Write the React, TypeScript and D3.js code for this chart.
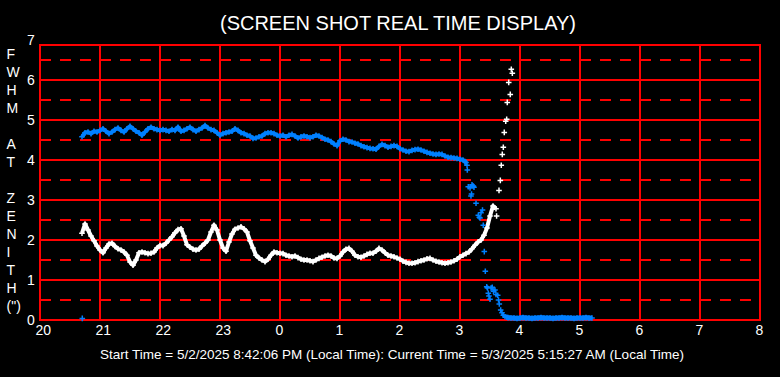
import React from "react";
import * as d3 from "d3";

// ---------- DATA ----------
const xTickValues = [20, 21, 22, 23, 24, 25, 26, 27, 28, 29, 30, 31, 32];
const xTickLabels = ["20", "21", "22", "23", "0", "1", "2", "3", "4", "5", "6", "7", "8"];
const yTickValues = [0, 1, 2, 3, 4, 5, 6, 7];
const yLabelLetters = ["F", "W", "H", "M", "", "A", "T", "", "Z", "E", "N", "I", "T", "H", "(\")"];

const sampleStep = 0.05; // hours between dense samples

// white series (dense part), starting 20.70 h
const whiteStart = 20.7;
const whiteDense = [
  2.17, 2.4, 2.25, 2.1, 1.98, 1.85, 1.75, 1.68, 1.8, 1.9, 1.92, 1.84, 1.78, 1.75, 1.7, 1.62, 1.45, 1.37, 1.5, 1.68,
  1.7, 1.68, 1.66, 1.67, 1.7, 1.8, 1.86, 1.86, 1.92, 2.0, 2.08, 2.18, 2.26, 2.28, 2.1, 1.88, 1.82, 1.77, 1.75, 1.77,
  1.85, 1.92, 2.0, 2.2, 2.37, 2.25, 2.0, 1.8, 1.72, 1.95, 2.15, 2.27, 2.3, 2.33, 2.28, 2.2, 1.98, 1.8, 1.62, 1.55,
  1.5, 1.46, 1.52, 1.62, 1.7, 1.68, 1.67, 1.66, 1.62, 1.6, 1.58, 1.6, 1.56, 1.52, 1.5, 1.5, 1.48, 1.46, 1.5, 1.54,
  1.57, 1.6, 1.62, 1.6, 1.55, 1.54, 1.6, 1.7, 1.77, 1.79, 1.72, 1.62, 1.58, 1.57, 1.6, 1.64, 1.67, 1.67, 1.72, 1.79,
  1.75, 1.68, 1.62, 1.6, 1.58, 1.55, 1.52, 1.47, 1.44, 1.42, 1.42, 1.43, 1.46, 1.48, 1.5, 1.53, 1.54, 1.5, 1.47, 1.45,
  1.43, 1.42, 1.43, 1.45, 1.48, 1.52, 1.58, 1.62, 1.66, 1.7, 1.78, 1.87, 1.95, 2.0, 2.12, 2.3, 2.6, 2.85, 2.78,
];
// white series (sparse rise)
const whiteSparseHours = [27.61, 27.65, 27.672, 27.688, 27.705, 27.722, 27.738, 27.762, 27.778, 27.788, 27.838, 27.812, 27.872, 27.855];
const whiteSparseValues = [2.6, 3.24, 3.49, 3.87, 4.14, 4.32, 4.69, 4.97, 5.02, 5.44, 5.64, 5.94, 6.17, 6.27];

// blue series (dense part), starting 20.70 h
const blueStart = 20.7;
const blueDense = [
  4.58, 4.68, 4.7, 4.66, 4.72, 4.7, 4.74, 4.78, 4.72, 4.66, 4.7, 4.76, 4.8, 4.74, 4.7, 4.78, 4.84, 4.78, 4.72, 4.68,
  4.62, 4.7, 4.78, 4.82, 4.78, 4.76, 4.74, 4.76, 4.74, 4.72, 4.76, 4.74, 4.82, 4.72, 4.74, 4.78, 4.82, 4.76, 4.72, 4.76,
  4.8, 4.86, 4.8, 4.76, 4.74, 4.68, 4.62, 4.66, 4.68, 4.7, 4.72, 4.78, 4.74, 4.68, 4.66, 4.62, 4.6, 4.54, 4.55, 4.58,
  4.6, 4.66, 4.68, 4.68, 4.66, 4.62, 4.6, 4.62, 4.58, 4.62, 4.64, 4.6, 4.55, 4.58, 4.6, 4.58, 4.56, 4.58, 4.62, 4.6,
  4.56, 4.52, 4.5, 4.46, 4.4, 4.36, 4.48, 4.52, 4.5, 4.46, 4.45, 4.42, 4.4, 4.36, 4.33, 4.31, 4.29, 4.28, 4.27, 4.34,
  4.39, 4.36, 4.32, 4.34, 4.36, 4.34, 4.28, 4.25, 4.22, 4.21, 4.24, 4.26, 4.27, 4.25, 4.22, 4.19, 4.17, 4.15, 4.14, 4.15,
  4.14, 4.1, 4.07, 4.06, 4.05, 4.04, 4.02, 4.0, 3.94,
];
// blue series (sparse drop)
const blueSparseHours = [
  27.083, 27.117, 27.122, 27.138, 27.167, 27.192, 27.183, 27.2, 27.222, 27.233, 27.267, 27.305, 27.322, 27.333, 27.35,
  27.375, 27.388, 27.405, 27.422, 27.445, 27.458, 27.472, 27.483, 27.5, 27.517, 27.538, 27.558, 27.583, 27.6, 27.628,
  27.642, 27.655, 27.678, 27.7, 27.722, 27.75, 27.778, 20.705,
];
const blueSparseValues = [
  3.96, 3.87, 3.75, 3.33, 3.3, 3.15, 3.1, 3.38, 3.35, 3.32, 2.92, 2.62, 2.57, 2.55, 2.68,
  2.75, 2.37, 1.71, 1.22, 0.83, 0.8, 0.67, 0.6, 0.52, 0.8, 0.82, 0.72, 0.75, 0.64, 0.62,
  0.5, 0.4, 0.25, 0.18, 0.12, 0.08, 0.07, 0.04,
];
// blue series (flat near zero), starting 27.80 h
const blueFlatStart = 27.8;
const blueFlat = [
  0.06, 0.05, 0.05, 0.04, 0.05, 0.06, 0.05, 0.05, 0.04, 0.05, 0.05, 0.06, 0.05, 0.05, 0.05, 0.04, 0.05, 0.05, 0.06, 0.05,
  0.05, 0.05, 0.04, 0.05, 0.05, 0.05, 0.06, 0.05, 0.05,
];

const titleText = "(SCREEN SHOT REAL TIME DISPLAY)";
const footerText =
  "Start Time = 5/2/2025 8:42:06 PM (Local Time): Current Time = 5/3/2025 5:15:27 AM (Local Time)";

// ---------- CHART ----------
const W = 780;
const H = 377;
const FONT = "'Liberation Sans', Arial, sans-serif";
const RED = "#ff0000";
const BLUE = "#0080ff";

type Pt = { h: number; v: number };

function build(start: number, vals: number[]): Pt[] {
  return vals.map((v, i) => ({ h: start + i * sampleStep, v }));
}
function zip(hs: number[], vs: number[]): Pt[] {
  return hs.map((h, i) => ({ h, v: vs[i] }));
}

export default function App() {
  const x = d3.scaleLinear().domain([20, 32]).range([40, 760]);
  const y = d3.scaleLinear().domain([0, 7]).range([320, 40]);
  const frameTop = y(6.875);

  const whiteD = build(whiteStart, whiteDense);
  const blueD = build(blueStart, blueDense);
  const blueF = build(blueFlatStart, blueFlat);
  const white = [...whiteD, ...zip(whiteSparseHours, whiteSparseValues)];
  const blue = [...blueD, ...zip(blueSparseHours, blueSparseValues), ...blueF];

  const line = d3
    .line<Pt>()
    .x((p) => x(p.h))
    .y((p) => y(p.v));

  const cross = (p: Pt) => {
    const cx = x(p.h);
    const cy = y(p.v);
    return `M${cx - 2.8},${cy}H${cx + 2.8}M${cx},${cy - 2.8}V${cy + 2.8}`;
  };

  const halfTicks = d3.range(0.5, 7, 1);

  return (
    <svg
      width={W}
      height={H}
      style={{ position: "absolute", left: 0, top: 0, display: "block" }}
      fontFamily={FONT}
    >
      <rect x={0} y={0} width={W} height={H} fill="#000" />
      <text x={398} y={30} fill="#fff" fontSize={20} textAnchor="middle">
        {titleText}
      </text>

      {/* dashed half-unit lines */}
      {halfTicks.map((v) => (
        <line
          key={"d" + v}
          x1={x(20)}
          x2={x(32)}
          y1={y(v)}
          y2={y(v)}
          stroke={RED}
          strokeWidth={2}
          strokeDasharray="11 9"
        />
      ))}
      {/* solid unit lines */}
      {yTickValues
        .filter((v) => v > 0 && v < 7)
        .map((v) => (
          <line key={"h" + v} x1={x(20)} x2={x(32)} y1={y(v)} y2={y(v)} stroke={RED} strokeWidth={2} />
        ))}
      {/* vertical hour lines */}
      {xTickValues.map((t) => (
        <line key={"v" + t} x1={x(t)} x2={x(t)} y1={frameTop} y2={y(0)} stroke={RED} strokeWidth={2} />
      ))}
      <rect
        x={x(20)}
        y={frameTop}
        width={x(32) - x(20)}
        height={y(0) - frameTop}
        fill="none"
        stroke={RED}
        strokeWidth={2}
      />

      {/* series: dense sample bands + cross markers */}
      <path d={line(whiteD) || ""} stroke="#fff" strokeWidth={4} fill="none" strokeLinejoin="round" />
      <path d={white.map(cross).join("")} stroke="#fff" strokeWidth={1.5} fill="none" />
      <path d={line(blueD) || ""} stroke={BLUE} strokeWidth={4} fill="none" strokeLinejoin="round" />
      <path d={line(blueF) || ""} stroke={BLUE} strokeWidth={5} fill="none" />
      <path d={blue.map(cross).join("")} stroke={BLUE} strokeWidth={1.5} fill="none" />

      {/* y tick labels */}
      {yTickValues.map((v) => (
        <text key={"yl" + v} x={31} y={y(v) + 5} fill="#fff" fontSize={14} textAnchor="middle">
          {String(v)}
        </text>
      ))}
      {/* x tick labels */}
      {xTickValues.map((t, i) => (
        <text key={"xl" + t} x={x(t) - 4.5} y={335} fill="#fff" fontSize={14} textAnchor="start">
          {xTickLabels[i]}
        </text>
      ))}
      {/* vertical y-axis title */}
      {yLabelLetters.map((c, i) => (
        <text key={"yt" + i} x={6.5} y={58.5 + i * 18} fill="#fff" fontSize={14}>
          {c}
        </text>
      ))}
      <text x={392} y={359} fill="#fff" fontSize={13.5} textAnchor="middle">
        {footerText}
      </text>
    </svg>
  );
}
